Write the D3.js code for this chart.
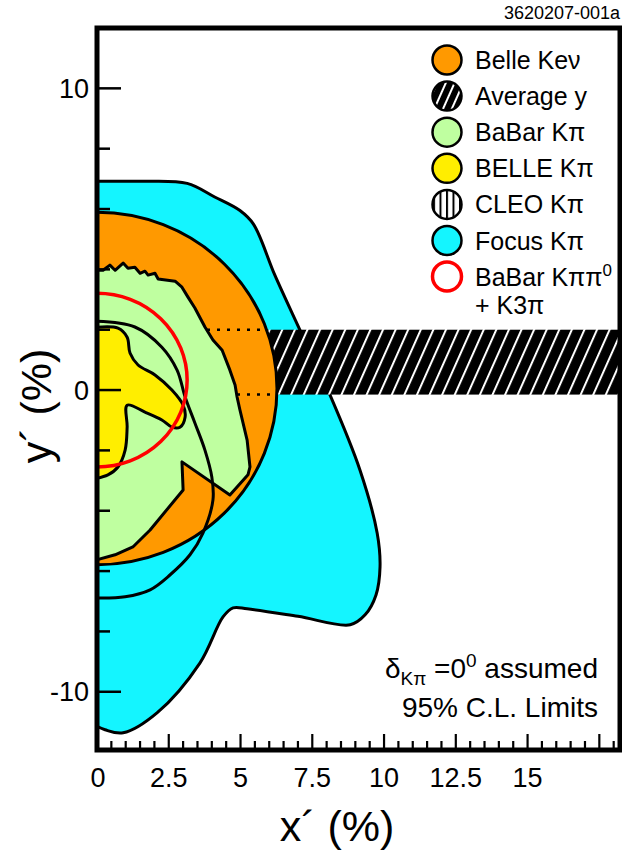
<!DOCTYPE html>
<html>
<head>
<meta charset="utf-8">
<script src="https://cdn.jsdelivr.net/npm/d3@7"></script>
<style>
  body { margin: 0; background: #fff; }
  svg { display: block; font-family: "Liberation Sans", Arial, Helvetica, sans-serif; }
</style>
</head>
<body>
<div id="chart"></div>
<script>
// 95% C.L. contours, [x' %, y' %]
const focusKpi = [
  [-0.3, 6.92], [0, 6.92], [1.5, 6.92], [3.14, 6.85], [4.1, 6.4], [4.98, 5.95],
  [5.45, 5.5], [6.2, 3.8], [7.07, 1.99], [8.12, -0.17], [9.16, -2.65], [9.76, -4.74],
  [9.86, -5.86], [9.72, -6.79], [9.34, -7.45], [8.82, -7.78], [7.0, -7.5], [5.23, -7.25],
  [4.74, -7.22], [4.39, -7.52], [3.59, -9.04], [2.09, -10.7], [0.91, -11.36],
  [0.28, -11.26], [-0.3, -11.0]
];
const babarKpi = [
  [-0.3, 3.97], [0.21, 3.97], [0.45, 4.14], [0.63, 3.97], [0.91, 4.21], [1.08, 4.04],
  [1.32, 4.07], [1.5, 3.87], [1.67, 3.94], [1.78, 3.81], [2.02, 3.87], [2.13, 3.68],
  [2.72, 3.61], [2.96, 3.41], [3.17, 3.08], [3.41, 2.72], [3.76, 2.09], [4.04, 1.66],
  [4.36, 1.32], [4.63, 0.66], [4.81, 0.17], [4.88, -0.23], [4.98, -0.66], [5.23, -1.66],
  [5.33, -2.55], [5.26, -2.81], [4.63, -3.48], [2.96, -2.38], [3.0, -3.31], [1.85, -4.64],
  [1.25, -5.2], [0.63, -5.46], [-0.3, -5.7]
];
const belleKpi = [
  [-0.3, 2.05], [0.73, 2.05], [1.05, 1.75], [1.15, 1.23], [1.43, 0.83], [2.02, 0.5],
  [2.61, 0.0], [3.0, -0.5], [3.07, -0.89], [2.89, -1.23], [2.61, -1.23], [2.26, -0.99],
  [1.67, -0.73], [1.05, -0.5], [1.05, -1.23], [0.98, -1.99], [0.73, -2.55], [0.38, -2.81],
  [-0.3, -2.98]
];
const cleoKpi = [
  [0, 2.28], [1.32, 2.09], [2.26, 1.42], [2.79, 0.66], [3.07, -0.23], [3.41, -1.09],
  [3.76, -1.99], [4.0, -2.88], [4.04, -3.64], [3.69, -4.74], [3.24, -5.46], [2.54, -6.13],
  [1.85, -6.62], [0.98, -6.85], [0, -6.89]
];
// elliptical contours: centre and half-widths
const belleKev = { cx: 0, cy: 0.05, rx: 6.27, ry: 5.84 };
const babarKpipi0 = { cx: 0, cy: 0.33, rx: 3.14, ry: 2.88 };
// average y band
const averageY = [-0.15, 2.0];

const xTickLabels = [0, 2.5, 5, 7.5, 10, 12.5, 15];
const xMajor = [2.5, 5, 7.5, 10, 12.5, 15, 17.5];
const xMinor = d3.range(1, 37).map(i => i * 0.5).filter(v => v % 2.5 !== 0);
const yTickLabels = [10, 0, -10];
const yMinor = [8, 6, 4, 2, -2, -4, -6, -8];

const legendLabels = ["Belle Ke\u03bd", "Average y", "BaBar K\u03c0", "BELLE K\u03c0",
  "CLEO K\u03c0", "Focus K\u03c0", "BaBar K\u03c0\u03c0"];

const W = 622, H = 855;
const pl = 97, pr = 620, pt = 28, pb = 750;

const x = d3.scaleLinear().domain([0, 18.22]).range([pl, pr]);
const y = d3.scaleLinear().domain([-11.93, 12]).range([pb, pt]);

const svg = d3.select("#chart").append("svg").attr("width", W).attr("height", H);
const defs = svg.append("defs");

defs.append("clipPath").attr("id", "plotClip")
  .append("rect").attr("x", pl).attr("y", pt)
  .attr("width", pr - pl).attr("height", pb - pt);

defs.append("clipPath").attr("id", "kevClip")
  .append("ellipse")
  .attr("cx", x(belleKev.cx)).attr("cy", y(belleKev.cy))
  .attr("rx", x(belleKev.rx) - x(0)).attr("ry", y(0) - y(belleKev.ry));

function hatchPattern(id, step) {
  const p = defs.append("pattern").attr("id", id)
    .attr("patternUnits", "userSpaceOnUse")
    .attr("width", step).attr("height", 40)
    .attr("patternTransform", "rotate(24)");
  p.append("rect").attr("width", step).attr("height", 40).attr("fill", "#000");
  p.append("rect").attr("width", 2).attr("height", 40).attr("fill", "#fff");
}
hatchPattern("hatch", 11.5);
hatchPattern("hatchSmall", 8);

const vp = defs.append("pattern").attr("id", "vlines")
  .attr("patternUnits", "userSpaceOnUse")
  .attr("x", 447 - 1).attr("width", 6.5).attr("height", 40);
vp.append("rect").attr("width", 6.5).attr("height", 40).attr("fill", "#fff");
vp.append("rect").attr("width", 2).attr("height", 40).attr("fill", "#000");

const smooth = d3.line().x(d => x(d[0])).y(d => y(d[1]))
  .curve(d3.curveCatmullRom.alpha(0.5));
const straight = d3.line().x(d => x(d[0])).y(d => y(d[1]));

const plot = svg.append("g").attr("clip-path", "url(#plotClip)");

// Focus
plot.append("path").attr("d", smooth(focusKpi) + "Z")
  .attr("fill", "#14f5ff").attr("stroke", "#000").attr("stroke-width", 3)
  .attr("stroke-linejoin", "round");

// average y band
plot.append("rect")
  .attr("x", x(0)).attr("y", y(averageY[1]))
  .attr("width", pr - x(0)).attr("height", y(averageY[0]) - y(averageY[1]))
  .attr("fill", "url(#hatch)");

// Belle Kev
plot.append("ellipse")
  .attr("cx", x(belleKev.cx)).attr("cy", y(belleKev.cy))
  .attr("rx", x(belleKev.rx) - x(0)).attr("ry", y(0) - y(belleKev.ry))
  .attr("fill", "#ff9900").attr("stroke", "#000").attr("stroke-width", 3);

// dotted band edges over Belle Kev
plot.append("g").attr("clip-path", "url(#kevClip)")
  .selectAll("line").data(averageY).enter().append("line")
  .attr("x1", x(0)).attr("x2", x(8))
  .attr("y1", d => y(d)).attr("y2", d => y(d))
  .attr("stroke", "#000").attr("stroke-width", 2.5)
  .attr("stroke-dasharray", "3,7");

// BaBar K pi
plot.append("path").attr("d", straight(babarKpi) + "Z")
  .attr("fill", "#bfffa0").attr("stroke", "#000").attr("stroke-width", 3)
  .attr("stroke-linejoin", "round");

// BELLE K pi
plot.append("path").attr("d", smooth(belleKpi) + "Z")
  .attr("fill", "#ffee00").attr("stroke", "#000").attr("stroke-width", 3)
  .attr("stroke-linejoin", "round");

// CLEO K pi
plot.append("path").attr("d", smooth(cleoKpi))
  .attr("fill", "none").attr("stroke", "#000").attr("stroke-width", 3);

// BaBar K pi pi0 + K3pi
plot.append("ellipse")
  .attr("cx", x(babarKpipi0.cx)).attr("cy", y(babarKpipi0.cy))
  .attr("rx", x(babarKpipi0.rx) - x(0)).attr("ry", y(0) - y(babarKpipi0.ry))
  .attr("fill", "none").attr("stroke", "#ff0000").attr("stroke-width", 3.5);

// ticks
const ticks = svg.append("g").attr("stroke", "#000");
ticks.selectAll(".xmaj").data(xMajor).enter().append("line")
  .attr("x1", d => x(d)).attr("x2", d => x(d))
  .attr("y1", pb).attr("y2", pb - 16).attr("stroke-width", 2.2);
ticks.selectAll(".xmin").data(xMinor).enter().append("line")
  .attr("x1", d => x(d)).attr("x2", d => x(d))
  .attr("y1", pb).attr("y2", pb - 9).attr("stroke-width", 2.2);
ticks.selectAll(".ymaj").data(yTickLabels).enter().append("line")
  .attr("x1", pl).attr("x2", pl + 24)
  .attr("y1", d => y(d)).attr("y2", d => y(d)).attr("stroke-width", 2.5);
ticks.selectAll(".ymin").data(yMinor).enter().append("line")
  .attr("x1", pl).attr("x2", pl + 13)
  .attr("y1", d => y(d)).attr("y2", d => y(d)).attr("stroke-width", 2.5);

// frame
svg.append("rect")
  .attr("x", pl).attr("y", pt)
  .attr("width", pr - pl).attr("height", pb - pt)
  .attr("fill", "none").attr("stroke", "#000").attr("stroke-width", 5);

// tick labels
svg.append("g").selectAll("text").data(xTickLabels).enter().append("text")
  .attr("x", d => x(d) + (d === 0 ? 1 : 0)).attr("y", 787)
  .attr("text-anchor", "middle").attr("font-size", 27)
  .text(d => d);
svg.append("g").selectAll("text").data(yTickLabels).enter().append("text")
  .attr("x", 89).attr("y", d => y(d)).attr("dy", "0.36em")
  .attr("text-anchor", "end").attr("font-size", 27)
  .text(d => d);

// axis titles
svg.append("text").attr("x", 337).attr("y", 841)
  .attr("text-anchor", "middle").attr("font-size", 43)
  .text("x\u00b4 (%)");
svg.append("text").attr("transform", "translate(51,406) rotate(-90)")
  .attr("text-anchor", "middle").attr("font-size", 43)
  .text("y\u00b4 (%)");

// figure id
svg.append("text").attr("x", 620).attr("y", 19)
  .attr("text-anchor", "end").attr("font-size", 18)
  .text("3620207-001a");

// legend
const legend = svg.append("g");
const rowY = i => 60 + i * 36.1;
const legendFill = ["#ff9900", "url(#hatchSmall)", "#bfffa0", "#ffee00", "url(#vlines)", "#14f5ff", "#fff"];
legend.selectAll("circle").data(legendLabels).enter().append("circle")
  .attr("cx", 447).attr("cy", (d, i) => rowY(i)).attr("r", 14.5)
  .attr("fill", (d, i) => legendFill[i])
  .attr("stroke", (d, i) => i === 6 ? "#ff0000" : "#000")
  .attr("stroke-width", (d, i) => i === 6 ? 3.5 : 2.5);
const lt = legend.selectAll("text").data(legendLabels).enter().append("text")
  .attr("x", 475).attr("y", (d, i) => rowY(i)).attr("dy", "0.36em")
  .attr("font-size", 25)
  .text(d => d);
lt.filter((d, i) => i === 6).append("tspan")
  .attr("font-size", 17).attr("dy", -10).text("0");
legend.append("text").attr("x", 475).attr("y", rowY(6) + 28).attr("dy", "0.36em")
  .attr("font-size", 25).text("+ K3\u03c0");

// note
const note = svg.append("text").attr("x", 598).attr("y", 678)
  .attr("text-anchor", "end").attr("font-size", 28);
note.append("tspan").text("\u03b4");
note.append("tspan").attr("font-size", 19).attr("dy", 7).text("K\u03c0");
note.append("tspan").attr("dy", -7).text(" =0");
note.append("tspan").attr("font-size", 19).attr("dy", -11).text("0");
note.append("tspan").attr("dy", 11).text(" assumed");
svg.append("text").attr("x", 598).attr("y", 717)
  .attr("text-anchor", "end").attr("font-size", 28)
  .text("95% C.L. Limits");
</script>
</body>
</html>
